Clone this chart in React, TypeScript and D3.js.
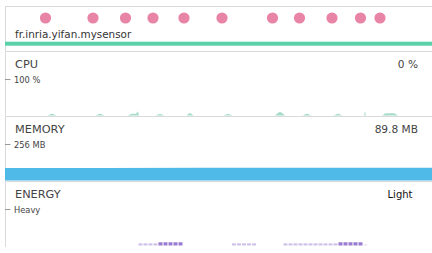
import React, { useEffect, useRef } from "react";
import * as d3 from "d3";

// interaction events (seconds)
const eventTimes = [8.1, 17.6, 24.1, 29.6, 35.8, 43.4, 53.5, 58.9, 65.4, 71.1, 75.0];

// CPU usage (%)
const cpuT = [0, 8.4, 9.4, 10.4, 18.0, 19.0, 20.0, 24.4, 25.4, 26.2, 26.6, 26.8, 30.0, 31.0, 32.0,
  36.2, 37.0, 37.8, 43.6, 44.6, 45.6, 53.8, 55.0, 56.2, 59.4, 60.4, 61.4, 65.6, 66.6, 67.6,
  71.8, 72.0, 72.2, 75.4, 76.2, 77.8, 78.6, 85.4];
const cpuV = [0, 0, 5, 0, 0, 5, 0, 0, 5, 5, 11, 0, 0, 4, 0,
  0, 7, 0, 0, 4, 0, 0, 10, 0, 0, 5, 0, 0, 5, 0,
  0, 11, 0, 0, 6, 6, 0, 0];

// Memory (MB)
const memT = [0, 20, 40, 60, 85.4];
const memV = [89.6, 89.7, 89.8, 89.8, 89.8];

// Energy usage (0..1 of Heavy)
const energyT = [26.7, 27.7, 28.7, 29.7, 30.7, 31.7, 32.7, 33.7, 34.7,
  45.4, 46.4, 47.4, 48.4, 49.4,
  55.7, 56.7, 57.7, 58.7, 59.7, 60.7, 61.7, 62.7, 63.7, 64.7, 65.7,
  66.7, 67.7, 68.7, 69.7, 70.7, 71.7];
const energyV = [0.06, 0.06, 0.06, 0.06, 0.09, 0.09, 0.09, 0.09, 0.09,
  0.06, 0.06, 0.06, 0.06, 0.06,
  0.06, 0.06, 0.06, 0.06, 0.06, 0.06, 0.06, 0.06, 0.06, 0.06, 0.06,
  0.09, 0.09, 0.09, 0.09, 0.09, 0.03];

const sections = [
  { name: "CPU", value: "0 %", tick: "100 %" },
  { name: "MEMORY", value: "89.8 MB", tick: "256 MB" },
  { name: "ENERGY", value: "Light", tick: "Heavy" },
];

const App: React.FC = () => {
  const svgRef = useRef<SVGSVGElement | null>(null);

  useEffect(() => {
    const width = 432;
    const height = 253;
    const svg = d3.select(svgRef.current);
    svg.selectAll("*").remove();
    svg.attr("width", width).attr("height", height);

    const font = "DejaVu Sans, sans-serif";
    const grid = "#dadada";

    const x = d3.scaleLinear().domain([0, 85.4]).range([5, 432]);

    // top border + left border
    svg.append("line").attr("x1", 5).attr("x2", width).attr("y1", 6.5).attr("y2", 6.5)
      .attr("stroke", grid);
    svg.append("line").attr("x1", 5.5).attr("x2", 5.5).attr("y1", 6).attr("y2", 247)
      .attr("stroke", grid);

    // events
    svg.append("g").selectAll("circle")
      .data(eventTimes)
      .join("circle")
      .attr("cx", d => x(d))
      .attr("cy", 18)
      .attr("r", 5.6)
      .attr("fill", "#e885a6");

    svg.append("text")
      .attr("x", 15).attr("y", 37.5)
      .style("font-family", font).style("font-size", "10.4px")
      .attr("fill", "#333")
      .text("fr.inria.yifan.mysensor");

    // app lifetime bar
    svg.append("rect").attr("x", 5).attr("y", 41.7).attr("width", width - 5).attr("height", 4)
      .attr("fill", "#5bd1aa");

    const top0 = 51;
    const step = 65;

    sections.forEach((s, i) => {
      const top = top0 + i * step;
      svg.append("line").attr("x1", 5).attr("x2", width)
        .attr("y1", top + 0.5).attr("y2", top + 0.5).attr("stroke", grid);
      svg.append("text")
        .attr("x", 15).attr("y", top + 17.3)
        .style("font-family", font).style("font-size", "11.3px")
        .attr("fill", "#444")
        .text(s.name);
      svg.append("text")
        .attr("x", i === 2 ? 412.5 : 418).attr("y", top + 17)
        .attr("text-anchor", "end")
        .style("font-family", font).style("font-size", i === 2 ? "10px" : "10.6px")
        .attr("fill", i === 2 ? "#111" : "#444")
        .text(s.value);
      svg.append("line").attr("x1", 5).attr("x2", 10.5)
        .attr("y1", top + 28.5).attr("y2", top + 28.5).attr("stroke", "#999");
      svg.append("text")
        .attr("x", 14).attr("y", top + 31.5)
        .style("font-family", font).style("font-size", "8.3px")
        .attr("fill", "#444")
        .text(s.tick);
    });

    // CPU
    const yCpu = d3.scaleLinear().domain([0, 100]).range([top0 + 64.5, top0 + 28.5]);
    const cpuArea = d3.area<number>()
      .x((_, i) => x(cpuT[i]))
      .y0(yCpu(0))
      .y1(d => yCpu(d))
      .curve(d3.curveMonotoneX);
    svg.append("path").datum(cpuV).attr("d", cpuArea).attr("fill", "#a6dccb");

    // Memory
    const yMem = d3.scaleLinear().domain([0, 256]).range([top0 + step + 64.5, top0 + step + 28.5]);
    const memArea = d3.area<number>()
      .x((_, i) => x(memT[i]))
      .y0(yMem(0))
      .y1(d => yMem(d));
    svg.append("path").datum(memV).attr("d", memArea).attr("fill", "#4fb9e8");

    // Energy
    const yEn = d3.scaleLinear().domain([0, 1]).range([top0 + 2 * step + 64.5, top0 + 2 * step + 28.5]);
    const enColor = d3.scaleThreshold<number, string>()
      .domain([0.05, 0.075])
      .range(["#e6def3", "#cfc2ea", "#9a7bd2"]);
    svg.append("g").selectAll("rect")
      .data(energyV)
      .join("rect")
      .attr("x", (_, i) => x(energyT[i]))
      .attr("width", (_, i) => x(energyT[i] + 0.8) - x(energyT[i]))
      .attr("y", d => yEn(d))
      .attr("height", d => yEn(0) - yEn(d))
      .attr("fill", d => enColor(d));
  }, []);

  return <svg ref={svgRef} style={{ position: "absolute", left: 0, top: 0 }}></svg>;
};

export default App;
